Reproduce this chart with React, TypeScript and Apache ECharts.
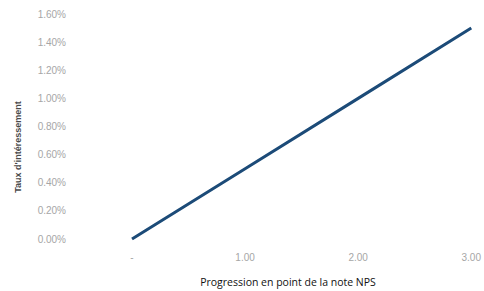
import React, { useEffect, useRef } from "react";
import * as echarts from "echarts";

const npsPoints = [0, 1, 2, 3];
const rates = [0, 0.005, 0.01, 0.015];
const xTitle = "Progression en point de la note NPS";
const yTitle = "Taux d'intéressement";

export default function App() {
  const ref = useRef<HTMLDivElement>(null);
  useEffect(() => {
    const chart = echarts.init(ref.current!, null, { renderer: "svg" });
    chart.setOption({
      animation: false,
      backgroundColor: "#ffffff",
      grid: { left: 132, right: 6, top: 14, bottom: 52 },
      xAxis: {
        type: "value",
        min: 0,
        max: 3,
        interval: 1,
        axisLine: { show: false },
        axisTick: { show: false },
        splitLine: { show: false },
        axisLabel: {
          color: "#a6a6a6",
          fontFamily: "Liberation Sans",
          fontSize: 10,
          margin: 13,
          formatter: (v: number) => (v === 0 ? "-" : v.toFixed(2)),
        },
      },
      yAxis: {
        type: "value",
        min: 0,
        max: 0.016,
        interval: 0.002,
        axisLine: { show: false },
        axisTick: { show: false },
        splitLine: { show: false },
        axisLabel: {
          color: "#a6a6a6",
          fontFamily: "Liberation Sans",
          fontSize: 10,
          margin: 66,
          formatter: (v: number) => (v * 100).toFixed(2) + "%",
        },
      },
      graphic: [
        {
          type: "text",
          x: 288,
          y: 282,
          style: {
            text: xTitle,
            fill: "#111111",
            font: "10.5px 'Open Sans'",
            align: "center",
            verticalAlign: "middle",
          },
        },
        {
          type: "text",
          x: 18,
          y: 147,
          rotation: Math.PI / 2,
          style: {
            text: yTitle,
            fill: "#4a4a4a",
            font: "bold 9px 'Liberation Sans'",
            align: "center",
            verticalAlign: "middle",
          },
        },
      ],
      series: [
        {
          type: "line",
          data: npsPoints.map((x, i) => [x, rates[i]]),
          showSymbol: false,
          lineStyle: { color: "#1c4b78", width: 3 },
        },
      ],
    });
    return () => chart.dispose();
  }, []);
  return <div ref={ref} style={{ width: 484, height: 291, position: "absolute", left: 0, top: 0 }} />;
}
